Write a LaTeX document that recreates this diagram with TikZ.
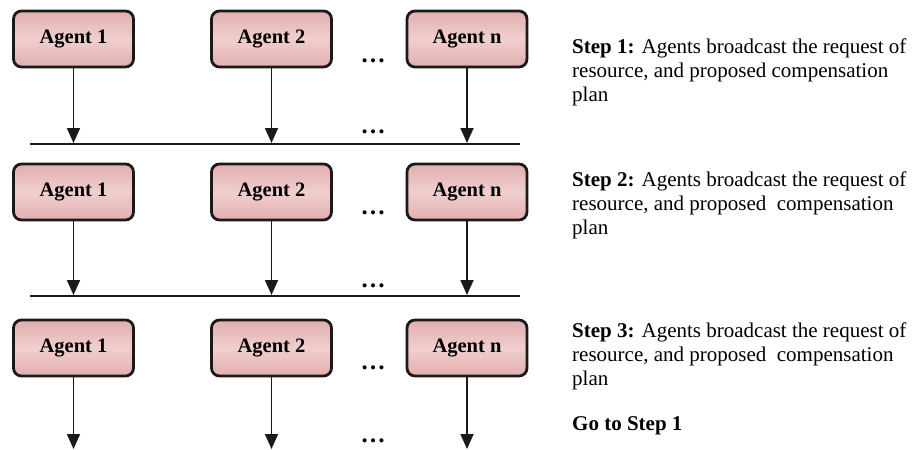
\documentclass[tikz,border=0pt]{standalone}
\usepackage{fontspec}
\setmainfont{Liberation Serif}
\usetikzlibrary{arrows.meta}
\definecolor{boxedge}{HTML}{1A1A1A}
\definecolor{pinkdark}{HTML}{E2AEAE}
\definecolor{pinklight}{HTML}{F0CFCF}

\begin{document}
\begin{tikzpicture}[x=1pt,y=-1pt,
  agent/.style={draw=boxedge, line width=2.8pt, rounded corners=8pt,
    minimum width=120pt, minimum height=56pt, inner sep=0pt,
    top color=pinkdark, bottom color=pinkdark, middle color=pinklight,
    font=\fontsize{20.5}{24}\selectfont\bfseries},
  flow/.style={line width=1.8pt, draw=boxedge, -{Triangle[length=15pt,width=13pt]}},
  bar/.style={line width=2pt, draw=boxedge},
  dots/.style={font=\fontsize{25}{24}\selectfont\bfseries, inner sep=0pt, anchor=base},
  steptext/.style={font=\fontsize{21}{24}\selectfont, inner sep=0pt, anchor=base west}]

\useasboundingbox (0,0) rectangle (919,450);

% agent boxes, three rounds
\foreach \r/\y in {1/39, 2/192, 3/348} {
  \node[agent] (a\r1) at (73.5,\y) {Agent 1};
  \node[agent] (a\r2) at (271.5,\y) {Agent 2};
  \node[agent] (a\r3) at (467,\y) {Agent n};
}

% broadcast bars between rounds
\coordinate (b1l) at (30,144);  \coordinate (b1r) at (520,144);
\coordinate (b2l) at (30,296);  \coordinate (b2r) at (520,296);
\draw[bar] (b1l) -- (b1r);
\draw[bar] (b2l) -- (b2r);

% arrow end points
\foreach \r/\y in {1/143, 2/295, 3/449} {
  \foreach \c in {1,2,3} {
    \coordinate (e\r\c) at (a\r\c.south |- 0,\y);
    \draw[flow] (a\r\c.south) -- (e\r\c);
  }
}

% ellipses between agent 2 and agent n
\node[dots] (d11) at (373,62) {…};
\node[dots] (d12) at (373,133) {…};
\node[dots] (d21) at (373,214) {…};
\node[dots] (d22) at (373,287) {…};
\node[dots] (d31) at (373,369) {…};
\node[dots] (d32) at (373,442) {…};

% step descriptions
\node[steptext] (s1) at (572,53) {\parbox[t]{345pt}{\raggedright\baselineskip=24pt\relax
  \textbf{Step 1:} Agents broadcast the request of\\
  resource, and proposed compensation\\
  plan}};
\node[steptext] (s2) at (572,186) {\parbox[t]{345pt}{\raggedright\baselineskip=24pt\relax
  \textbf{Step 2:} Agents broadcast the request of\\
  resource, and proposed\ \ compensation\\
  plan}};
\node[steptext] (s3) at (572,337) {\parbox[t]{345pt}{\raggedright\baselineskip=24pt\relax
  \textbf{Step 3:} Agents broadcast the request of\\
  resource, and proposed\ \ compensation\\
  plan}};
\node[steptext] (go) at (572,430) {\textbf{Go to Step 1}};
\end{tikzpicture}
\end{document}
